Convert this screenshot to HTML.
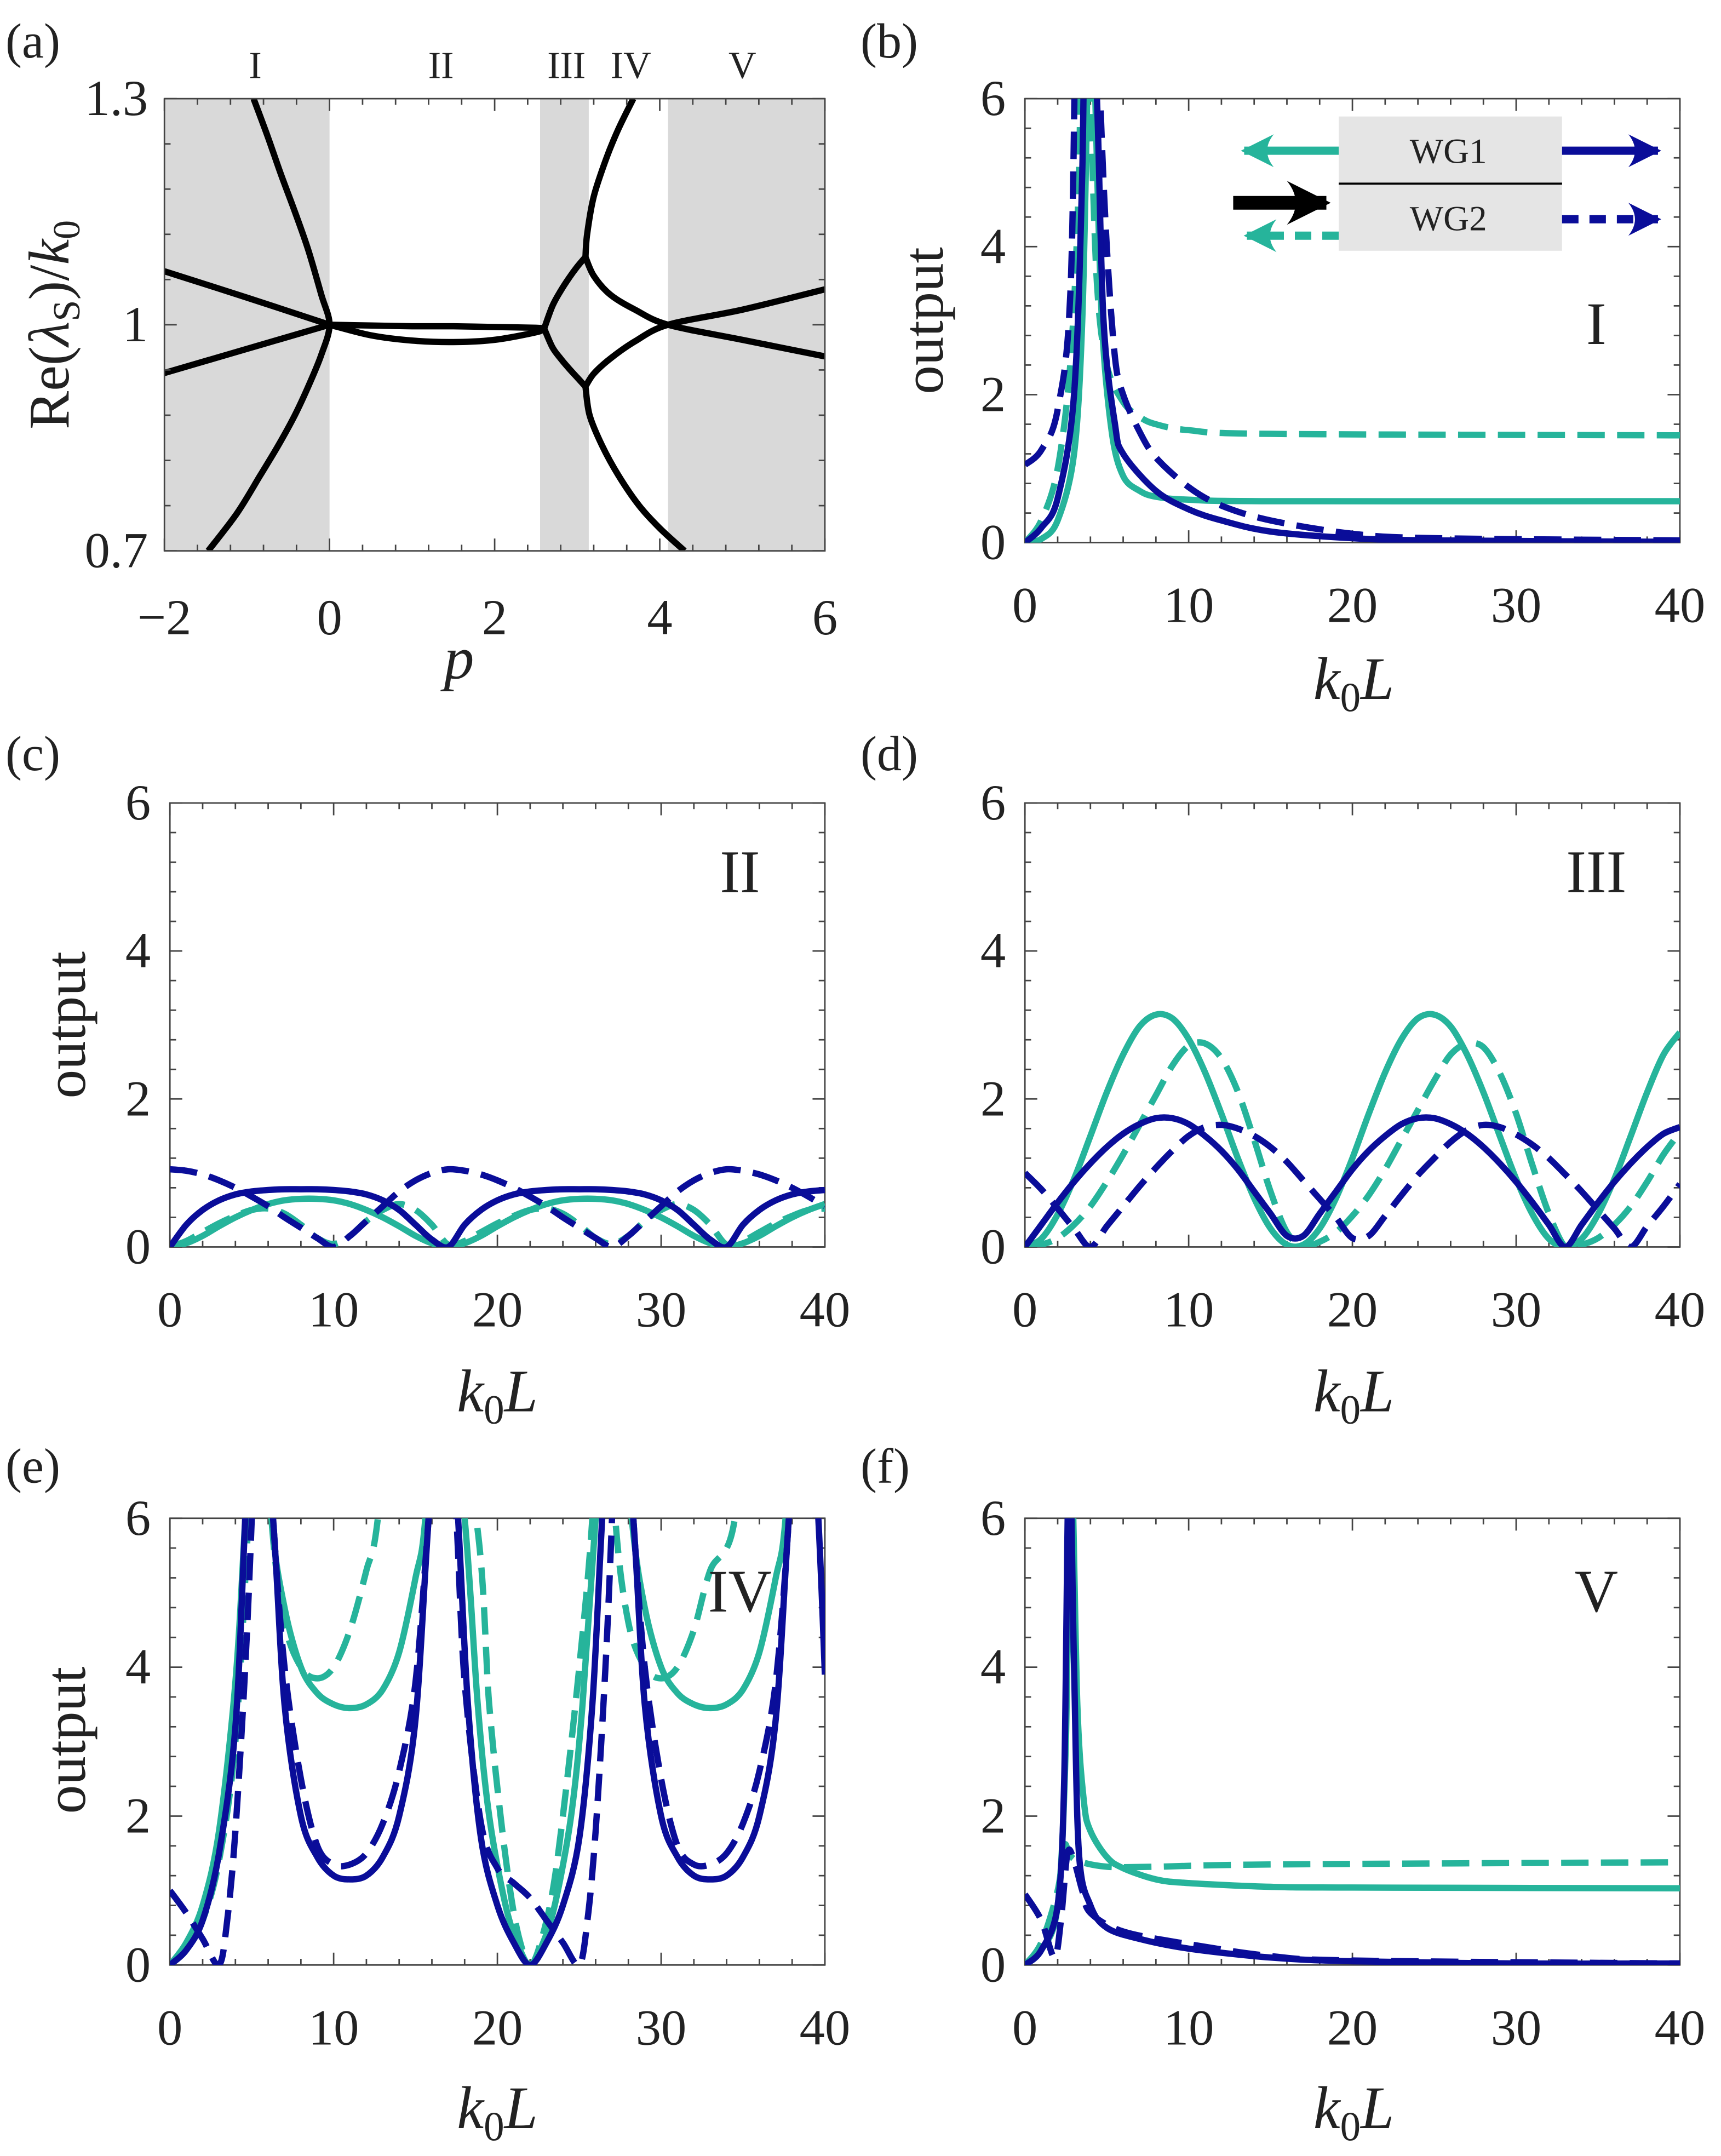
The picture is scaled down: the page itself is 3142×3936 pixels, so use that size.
<!DOCTYPE html>
<html><head><meta charset="utf-8"><style>
html,body{margin:0;padding:0;background:#fff}
svg{display:block}
text{font-family:"Liberation Serif","Times New Roman",serif;fill:#222}
</style></head><body>
<svg id="fig" width="3142" height="3936" viewBox="0 0 1256 1573.4" xmlns="http://www.w3.org/2000/svg">
<defs>
<marker id="ahT" viewBox="0 0 10 10" refX="9" refY="5" markerWidth="4" markerHeight="4" orient="auto-start-reverse"><path d="M0,0 Q4,5 0,10 L10,5 Z" fill="#26b49b"/></marker>
<marker id="ahN" viewBox="0 0 10 10" refX="9" refY="5" markerWidth="4" markerHeight="4" orient="auto"><path d="M0,0 Q4,5 0,10 L10,5 Z" fill="#0a0d99"/></marker>
<marker id="ahK" viewBox="0 0 10 10" refX="9" refY="5" markerWidth="3.2" markerHeight="3.2" orient="auto"><path d="M0,0 Q4,5 0,10 L10,5 Z" fill="#000"/></marker>
</defs>
</svg>
<script>
// ---------- Panel (a) data ----------
const aShadeStart=[-2,2.55,4.1];
const aShadeEnd=[0,3.14,6];
const aLeftP=[-0.92,-0.75,-0.59,-0.42,-0.26,-0.1,0,-0.1,-0.25,-0.42,-0.62,-0.84,-1.12,-1.47];
const aLeftY=[1.3,1.25,1.2,1.15,1.1,1.04,1.0,0.96,0.92,0.88,0.84,0.8,0.75,0.7];
const aCrossAP=[-2,-1,0], aCrossAY=[1.071,1.036,1.0];
const aCrossBP=[-2,-1,0], aCrossBY=[0.936,0.968,1.0];
const aMidUpP=[0,0.5,1,1.5,2,2.5,2.6], aMidUpY=[1.0,0.999,0.998,0.998,0.997,0.996,0.995];
const aMidLoP=[0,0.5,1,1.5,2,2.5,2.6], aMidLoY=[1.0,0.986,0.979,0.977,0.98,0.99,0.995];
const aLoop2UpP=[2.6,2.7,2.8,2.9,3.0,3.1], aLoop2UpY=[0.995,1.025,1.045,1.062,1.077,1.09];
const aLoop2LoP=[2.6,2.7,2.8,2.9,3.0,3.1], aLoop2LoY=[0.995,0.97,0.955,0.942,0.93,0.918];
const aRiseP=[3.1,3.12,3.2,3.35,3.5,3.68], aRiseY=[1.09,1.12,1.17,1.22,1.26,1.3];
const aFallP=[3.1,3.15,3.3,3.5,3.75,4.0,4.3], aFallY=[0.918,0.88,0.84,0.8,0.76,0.73,0.7];
const aXUpP=[3.1,3.2,3.4,3.7,4.1,5,6], aXUpY=[1.09,1.065,1.04,1.02,1.0,0.98,0.958];
const aXLoP=[3.1,3.2,3.4,3.7,4.1,5,6], aXLoY=[0.918,0.935,0.955,0.978,1.0,1.02,1.047];
const aRegionLabels=["I","II","III","IV","V"];
const aRegionP=[-0.9,1.35,2.87,3.65,5.0];
// ---------- Panel (b) data ----------
const bTealSolidX=[0,1,2,3,3.5,3.8,4,4.3,4.7,5.3,6,7,8,10,15,40];
const bTealSolidY=[0,0.05,0.3,1.2,3,6,9,6,3,1.5,0.9,0.7,0.62,0.58,0.56,0.56];
const bTealDashX=[0,1,2,2.8,3.3,3.6,4,4.4,5,6,7,8,10,15,40];
const bTealDashY=[0,0.3,1.0,2.5,5,9,6,3.5,2.4,1.9,1.7,1.6,1.52,1.47,1.45];
const bNavySolidX=[0,1,2,3,3.5,3.8,4.4,4.8,5.5,6,8,10,12,15,20,25,40];
const bNavySolidY=[0,0.2,0.6,2,5,9,6,3,1.6,1.2,0.7,0.45,0.3,0.15,0.06,0.03,0.01];
const bNavyDashX=[0,1,2,2.8,3.3,4.2,4.6,5,5.5,6,7,8,10,12,15,20,25,40];
const bNavyDashY=[1.05,1.25,1.8,3.5,9,9,6,4,2.5,2.0,1.5,1.15,0.75,0.5,0.3,0.12,0.06,0.03];
// ---------- Panel (c) data (x = 0..40 step 1) ----------
const cNavySolidY=[0,0.3,0.5,0.63,0.71,0.75,0.77,0.78,0.78,0.78,0.77,0.75,0.71,0.63,0.5,0.3,0.1,0,0.3,0.5,0.63,0.71,0.75,0.77,0.78,0.78,0.78,0.77,0.75,0.71,0.63,0.5,0.3,0.1,0,0.3,0.5,0.63,0.71,0.75,0.77];
const cTealSolidY=[0,0.05,0.15,0.28,0.4,0.5,0.58,0.63,0.65,0.65,0.63,0.58,0.5,0.4,0.28,0.15,0.05,0,0.05,0.15,0.28,0.4,0.5,0.58,0.63,0.65,0.65,0.63,0.58,0.5,0.4,0.28,0.15,0.05,0,0.05,0.15,0.28,0.4,0.5,0.58];
const cTealDashY=[0,0.08,0.2,0.32,0.42,0.5,0.52,0.45,0.3,0.12,0.04,0.15,0.35,0.5,0.58,0.5,0.3,0.03,0.08,0.2,0.32,0.42,0.5,0.52,0.45,0.3,0.12,0.04,0.15,0.35,0.5,0.58,0.5,0.3,0.03,0.08,0.2,0.32,0.42,0.5,0.52];
const cNavyDashY=[1.05,1.03,0.98,0.9,0.8,0.68,0.55,0.4,0.26,0.12,0,0.15,0.35,0.55,0.75,0.9,1.0,1.05,1.03,0.98,0.9,0.8,0.68,0.55,0.4,0.26,0.12,0,0.15,0.35,0.55,0.75,0.9,1.0,1.05,1.03,0.98,0.9,0.8,0.68,0.55];
// ---------- Panel (d) data (x = 0..40 step 1) ----------
const dTealSolidY=[0,0.11,0.44,0.92,1.5,2.09,2.6,2.98,3.14,3.09,2.81,2.36,1.8,1.2,0.66,0.25,0.03,0.03,0.25,0.66,1.2,1.8,2.36,2.81,3.09,3.14,2.98,2.6,2.09,1.5,0.92,0.44,0.11,0,0.11,0.44,0.92,1.5,2.09,2.6,2.9];
const dTealDashY=[0,0.03,0.12,0.3,0.55,0.88,1.25,1.65,2.05,2.45,2.72,2.75,2.55,2.1,1.45,0.75,0.2,0.01,0.07,0.2,0.42,0.7,1.05,1.45,1.85,2.25,2.6,2.75,2.7,2.35,1.8,1.1,0.45,0,0.03,0.12,0.3,0.55,0.88,1.25,1.55];
const dNavySolidY=[0,0.3,0.6,0.88,1.13,1.35,1.53,1.66,1.74,1.74,1.66,1.5,1.3,1.05,0.75,0.45,0.15,0.15,0.45,0.75,1.05,1.3,1.5,1.66,1.74,1.74,1.66,1.53,1.35,1.13,0.88,0.6,0.3,0,0.3,0.6,0.88,1.13,1.35,1.53,1.62];
const dNavyDashY=[1.0,0.78,0.52,0.25,0,0.28,0.55,0.82,1.07,1.3,1.5,1.62,1.65,1.6,1.5,1.35,1.15,0.9,0.65,0.4,0.12,0.15,0.42,0.7,0.97,1.2,1.42,1.58,1.65,1.62,1.52,1.38,1.2,0.98,0.75,0.5,0.25,0,0.28,0.55,0.85];
// ---------- Panel (e) data ----------
const eTealSolidX=[0,1,2,3,4,4.6,5.3,6.2,7,8,9,10,11,12,13,14,15,15.6,16.5,18,18.8,19.5,20.5,21.3,22,22.7,23.5,24.5,25.2,26,27,28.2,29,30,31,32,33,34,35,36,37,37.6,38.5,40];
const eTealSolidY=[0,0.3,0.8,1.8,3.8,6,9,6,4.8,4.0,3.65,3.5,3.45,3.5,3.7,4.2,5.2,6,9,6,3.5,2,0.8,0.25,0,0.25,0.8,2,3.5,6,9,6,4.8,4.0,3.65,3.5,3.45,3.5,3.7,4.2,5.2,6,9,9];
const eTealDashX=[0,1,2,3,4,4.8,5.5,6.2,7,8,9,10,11,12,12.7,14,16,18.7,19.5,20.3,21,21.6,22,22.5,23.3,24,25,25.8,26.5,27.2,28,29,30,31,32,33,34.5,35.5,40];
const eTealDashY=[0,0.2,0.6,1.4,3,6,9,6,4.6,4.0,3.85,4.0,4.5,5.3,6,9,9,6,3.5,1.8,0.7,0.15,0,0.2,0.9,2,4,6,9,6,4.6,4.0,3.85,4.0,4.5,5.3,6,9,9];
const eNavySolidX=[0,1,2,3,4,4.6,5.2,6.3,7,8,9,10,11,12,13,14,15,15.8,16.8,17.6,18.2,19,20,21,22,23,24,25,25.8,26.4,27.2,28.3,29,30,31,32,33,34,35,36,37,37.8,38.8,39.6,40];
const eNavySolidY=[0,0.2,0.6,1.5,3.2,6,9,6,3.5,2.0,1.45,1.2,1.15,1.2,1.45,2.0,3.3,6,9,6,3.5,1.7,0.8,0.3,0,0.3,0.8,1.7,3.5,6,9,6,3.5,2.0,1.45,1.2,1.15,1.2,1.45,2.0,3.3,6,9,6,3.9];
const eNavyDashX=[0,1,2,3,3.5,4,4.6,5,5.5,6.3,7,8,9,10,11,12,13,14,15,15.8,16.8,17.5,18,19,20,21,22,23,24,25,25.5,26,26.6,27,27.5,28.3,29,30,31,32,33,34,35,36,37,37.8,38.5,39];
const eNavyDashY=[1.0,0.7,0.35,0,0.6,1.8,4,6,9,6,4,2.5,1.6,1.35,1.35,1.5,1.9,2.6,3.8,6,9,6,3.8,1.9,1.3,1.1,0.9,0.6,0.3,0,0.6,1.8,4,6,9,6,4,2.5,1.6,1.35,1.35,1.5,1.9,2.6,3.8,6,9,6];
// ---------- Panel (f) data ----------
const fTealSolidX=[0,1,2,2.5,2.8,3.2,3.6,4,5,6,8,10,15,20,40];
const fTealSolidY=[0,0.2,0.8,3,7,3.5,2.2,1.8,1.45,1.3,1.15,1.1,1.05,1.04,1.03];
const fTealDashX=[0,1,2,2.4,2.7,3.2,5,8,15,40];
const fTealDashY=[0,0.3,1.0,1.6,1.5,1.4,1.32,1.32,1.35,1.38];
const fNavySolidX=[0,1,2,2.4,2.7,3,3.3,4,5,7,10,15,20,30,40];
const fNavySolidY=[0,0.2,0.8,2.5,7,4,1.5,0.8,0.5,0.35,0.22,0.1,0.05,0.02,0.02];
const fNavyDashX=[0,1,1.8,2.2,2.6,3,3.5,4,6,10,15,20,40];
const fNavyDashY=[0.95,0.6,0.1,0.6,1.5,1.4,1.0,0.7,0.45,0.28,0.12,0.06,0.02];
// ---------- common ----------
const kTickLabels=["0","10","20","30","40"];
const outTickLabels=["0","2","4","6"];
const TEAL="#26b49b", NAVY="#0a0d99";
const NS="http://www.w3.org/2000/svg";
const svg=document.getElementById('fig');
function mk(tag,attrs,parent){const e=document.createElementNS(NS,tag);for(const k in attrs)e.setAttribute(k,attrs[k]);(parent||svg).appendChild(e);return e;}
function range(a,b,s){const r=[];for(let v=a;v<=b+1e-9;v+=s)r.push(+v.toFixed(6));return r;}
const idx41=range(0,40,1);

function panel(id,L,T,R,B,x0,x1,y0,y1){
  const g=mk('g',{});
  
  
  const sx=v=>L+(v-x0)/(x1-x0)*(R-L);
  const sy=v=>B-(v-y0)/(y1-y0)*(B-T);
  const cp=mk('clipPath',{id:'clip-'+id},g);
  mk('rect',{x:L,y:T,width:R-L,height:B-T},cp);
  return {g,sx,sy,L,T,R,B,id};
}
function smoothPath(pts){
  if(pts.length<3) return pts.map((p,i)=>(i?'L':'M')+p[0].toFixed(2)+','+p[1].toFixed(2)).join(' ');
  let d='M'+pts[0][0].toFixed(2)+','+pts[0][1].toFixed(2);
  for(let i=0;i<pts.length-1;i++){
    const p0=pts[Math.max(0,i-1)],p1=pts[i],p2=pts[i+1],p3=pts[Math.min(pts.length-1,i+2)];
    const t=0.16;
    const c1=[p1[0]+(p2[0]-p0[0])*t,p1[1]+(p2[1]-p0[1])*t];
    const c2=[p2[0]-(p3[0]-p1[0])*t,p2[1]-(p3[1]-p1[1])*t];
    d+=' C'+c1[0].toFixed(2)+','+c1[1].toFixed(2)+' '+c2[0].toFixed(2)+','+c2[1].toFixed(2)+' '+p2[0].toFixed(2)+','+p2[1].toFixed(2);
  }
  return d;
}
function series(p,xs,ys,color,dashed,name,w){
  const pts=xs.map((x,i)=>[p.sx(x),p.sy(ys[i])]);
  const e=mk('path',{d:smoothPath(pts),fill:'none',stroke:color,'stroke-width':w||4.6,'stroke-linejoin':'round','clip-path':'url(#clip-'+p.id+')'},p.g);
  if(dashed)e.setAttribute('stroke-dasharray','20,9');
  
  
}
function axes(p,xMinor,xMajor,yMinor,yMajor,xLabels,yLabels,xLabY,yLabX){
  const ag=mk('g',{stroke:'#444','stroke-width':1.1,fill:'none'},p.g);
  
  
  mk('rect',{x:p.L,y:p.T,width:p.R-p.L,height:p.B-p.T},ag);
  const majX=xMajor.map(Number), majY=yMajor.map(Number);
  xMinor.forEach(v=>{const x=p.sx(v);const len=majX.some(m=>Math.abs(m-v)<1e-6)?9:4.5;
    mk('line',{x1:x,y1:p.B,x2:x,y2:p.B-len},ag);mk('line',{x1:x,y1:p.T,x2:x,y2:p.T+len},ag);});
  yMinor.forEach(v=>{const y=p.sy(v);const len=majY.some(m=>Math.abs(m-v)<1e-6)?9:4.5;
    mk('line',{x1:p.L,y1:y,x2:p.L+len,y2:y},ag);mk('line',{x1:p.R,y1:y,x2:p.R-len,y2:y},ag);});
  xLabels.forEach(s=>{const t=mk('text',{x:p.sx(Number(s.replace('−','-'))),y:xLabY,'font-size':37,'text-anchor':'middle'},p.g);t.textContent=s;
    });
  yLabels.forEach(s=>{const t=mk('text',{x:yLabX,y:p.sy(Number(s))+12,'font-size':37,'text-anchor':'end'},p.g);t.textContent=s;
    });
}
function txt(s,x,y,size,name,extra){const t=mk('text',Object.assign({x:x,y:y,'font-size':size},extra||{}));t.textContent=s;
  return t;}
function kLabel(cx,y,name){const t=mk('text',{x:cx,y:y,'font-size':44,'text-anchor':'middle','font-style':'italic'});
  
  t.innerHTML='k<tspan font-size="30" dy="9" font-style="normal">0</tspan><tspan dy="-9">L</tspan>';}
function outLabel(x,cy,name){const t=mk('text',{x:0,y:0,'font-size':42,'text-anchor':'middle',transform:'translate('+x+','+cy+') rotate(-90)'});
  t.textContent='output';}

// ---------- Panel (a) ----------
const pa=panel('a',120,72,602,402,-2,6,0.7,1.3);
aShadeStart.forEach((s,i)=>{const r=mk('rect',{x:pa.sx(s),y:pa.T,width:pa.sx(aShadeEnd[i])-pa.sx(s),height:pa.B-pa.T,fill:'#d9d9d9'},pa.g);
  });
[[aLeftP,aLeftY],[aCrossAP,aCrossAY],[aCrossBP,aCrossBY],[aMidUpP,aMidUpY],[aMidLoP,aMidLoY],[aLoop2UpP,aLoop2UpY],[aLoop2LoP,aLoop2LoY],[aRiseP,aRiseY],[aFallP,aFallY],[aXUpP,aXUpY],[aXLoP,aXLoY]]
 .forEach(s=>series(pa,s[0],s[1],'#000',false,'eigenvalue-branch',4.6));
axes(pa,range(-2,6,0.4),['-2','0','2','4','6'],range(0.7,1.3,0.06),['0.7','1','1.3'],['−2','0','2','4','6'],['0.7','1','1.3'],463,108);
aRegionLabels.forEach((s,i)=>txt(s,pa.sx(aRegionP[i]),57,28,'region-label-'+s,{'text-anchor':'middle'}));
txt('p',335,495,44,'x-axis-title',{'font-style':'italic','text-anchor':'middle'});
(function(){const t=mk('text',{'font-size':42,'text-anchor':'middle',transform:'translate(50,237) rotate(-90)'});
 
 t.innerHTML='Re(<tspan font-style="italic">λ</tspan><tspan font-size="28" dy="8">S</tspan><tspan dy="-8">)/</tspan><tspan font-style="italic">k</tspan><tspan font-size="28" dy="8">0</tspan>';})();

function outPanel(id,L,T,R,B){const p=panel(id,L,T,R,B,0,40,0,6);
  axes(p,range(0,40,2),['0','10','20','30','40'],range(0,6,0.4),['0','2','4','6'],kTickLabels,outTickLabels,B+58,L-14);return p;}

const pb=outPanel('b',748,72,1226,396);
series(pb,bTealSolidX,bTealSolidY,TEAL,false,'wg1-backward-solid');
series(pb,bTealDashX,bTealDashY,TEAL,true,'wg2-backward-dashed');
series(pb,bNavySolidX,bNavySolidY,NAVY,false,'wg1-forward-solid');
series(pb,bNavyDashX,bNavyDashY,NAVY,true,'wg2-forward-dashed');

const pc=outPanel('c',124,586,602,910);
series(pc,idx41,cTealSolidY,TEAL,false,'wg1-backward-solid');
series(pc,idx41,cTealDashY,TEAL,true,'wg2-backward-dashed');
series(pc,idx41,cNavySolidY,NAVY,false,'wg1-forward-solid');
series(pc,idx41,cNavyDashY,NAVY,true,'wg2-forward-dashed');

const pd=outPanel('d',748,586,1226,910);
series(pd,idx41,dTealSolidY,TEAL,false,'wg1-backward-solid');
series(pd,idx41,dTealDashY,TEAL,true,'wg2-backward-dashed');
series(pd,idx41,dNavySolidY,NAVY,false,'wg1-forward-solid');
series(pd,idx41,dNavyDashY,NAVY,true,'wg2-forward-dashed');

const pe=outPanel('e',124,1108,602,1434);
series(pe,eTealSolidX,eTealSolidY,TEAL,false,'wg1-backward-solid');
series(pe,eTealDashX,eTealDashY,TEAL,true,'wg2-backward-dashed');
series(pe,eNavySolidX,eNavySolidY,NAVY,false,'wg1-forward-solid');
series(pe,eNavyDashX,eNavyDashY,NAVY,true,'wg2-forward-dashed');

const pf=outPanel('f',748,1108,1226,1434);
series(pf,fTealSolidX,fTealSolidY,TEAL,false,'wg1-backward-solid');
series(pf,fTealDashX,fTealDashY,TEAL,true,'wg2-backward-dashed');
series(pf,fNavySolidX,fNavySolidY,NAVY,false,'wg1-forward-solid');
series(pf,fNavyDashX,fNavyDashY,NAVY,true,'wg2-forward-dashed');

kLabel(988,510,'x-axis-title-b');kLabel(363,1030,'x-axis-title-c');kLabel(988,1030,'x-axis-title-d');
kLabel(363,1553,'x-axis-title-e');kLabel(988,1553,'x-axis-title-f');
outLabel(688,234,'y-axis-title-b');outLabel(62,748,'y-axis-title-c');outLabel(62,1270,'y-axis-title-e');
txt('(a)',4,42,36,'panel-label-a');txt('(b)',628,42,36,'panel-label-b');
txt('(c)',4,562,36,'panel-label-c');txt('(d)',628,562,36,'panel-label-d');
txt('(e)',4,1082,36,'panel-label-e');txt('(f)',628,1082,36,'panel-label-f');
txt('I',1165,251,44,'regime-label-I',{'text-anchor':'middle'});
txt('II',540,651,44,'regime-label-II',{'text-anchor':'middle'});
txt('III',1165,651,44,'regime-label-III',{'text-anchor':'middle'});
txt('IV',540,1176,44,'regime-label-IV',{'text-anchor':'middle'});
txt('V',1165,1176,44,'regime-label-V',{'text-anchor':'middle'});

const ins=mk('g',{});


mk('rect',{x:977,y:85,width:163,height:98,fill:'#e5e5e5'},ins);
mk('line',{x1:977,y1:134,x2:1140,y2:134,stroke:'#000','stroke-width':1.5},ins);
(function(){const t=mk('text',{x:1057,y:119,'font-size':26,'text-anchor':'middle'},ins);t.textContent='WG1';
 
 const u=mk('text',{x:1057,y:168,'font-size':26,'text-anchor':'middle'},ins);u.textContent='WG2';
 })();
mk('line',{x1:977,y1:110,x2:908,y2:110,stroke:TEAL,'stroke-width':6,'marker-end':'url(#ahT)'},ins);
mk('line',{x1:1140,y1:110,x2:1210,y2:110,stroke:NAVY,'stroke-width':6,'marker-end':'url(#ahN)'},ins);
mk('line',{x1:900,y1:148,x2:968,y2:148,stroke:'#000','stroke-width':10,'marker-end':'url(#ahK)'},ins);
mk('line',{x1:977,y1:172,x2:910,y2:172,stroke:TEAL,'stroke-width':6,'stroke-dasharray':'12,8','marker-end':'url(#ahT)'},ins);
mk('line',{x1:1140,y1:160,x2:1210,y2:160,stroke:NAVY,'stroke-width':6,'stroke-dasharray':'12,8','marker-end':'url(#ahN)'},ins);
</script>
</body></html>
